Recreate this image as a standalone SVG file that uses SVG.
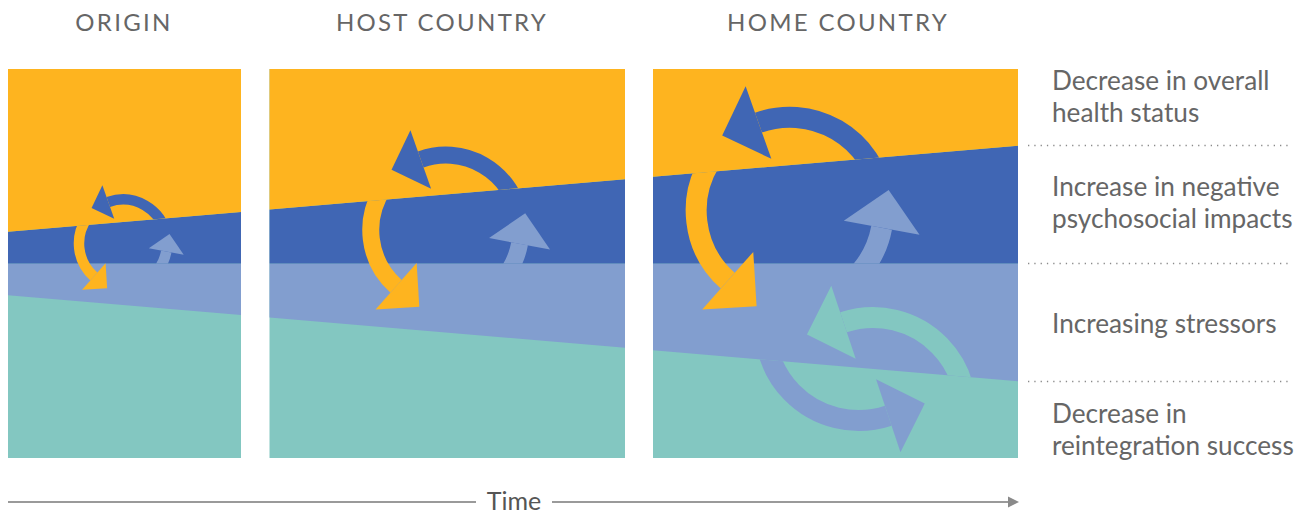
<svg xmlns="http://www.w3.org/2000/svg" width="1303" height="513" viewBox="0 0 1303 513">
<style>
.or{fill:#FEB41F}.db{fill:#4066B4}.lb{fill:#829ECF}.tl{fill:#83C7C1}
.a{fill:none}
.aor{stroke:#FEB41F}.adb{stroke:#4066B4}.alb{stroke:#829ECF}.atl{stroke:#83C7C1}
.w1{stroke-width:10.5}.w2{stroke-width:17}.w3{stroke-width:21}
text{font-family:Lato,"Liberation Sans",sans-serif;fill:#666}
.hdr{font-size:24px;letter-spacing:2.3px;text-anchor:middle}
.lbl{font-size:26.2px}
.dot{stroke:#8a8a8a;stroke-width:1.3;stroke-dasharray:1.3 5}
.axis{stroke:#9a9a9a;stroke-width:1.8}
</style>
<defs>
<clipPath id="cAbove1"><polygon points="0,0 1303,0 1303,121.43 0,232.38"/></clipPath>
<clipPath id="cBelow1"><polygon points="0,232.38 1303,121.43 1303,513 0,513"/></clipPath>
<clipPath id="cAbove2"><rect x="0" y="0" width="1303" height="263.5"/></clipPath>
<clipPath id="cAbove3"><polygon points="0,0 1303,0 1303,405.57 0,294.62"/></clipPath>
<clipPath id="cBelow3"><polygon points="0,294.62 1303,405.57 1303,513 0,513"/></clipPath>
</defs>

<g id="headers">
<text class="hdr" x="124" y="31">ORIGIN</text>
<text class="hdr" x="442" y="31">HOST COUNTRY</text>
<text class="hdr" x="838" y="31">HOME COUNTRY</text>
</g>

<g id="panel-origin">
<rect class="tl" x="8" y="69" width="233" height="389"/>
<polygon class="lb" points="8,263.5 241,263.5 241,315.1 8,295.3"/>
<polygon class="db" points="8,231.7 241,211.9 241,263.5 8,263.5"/>
<polygon class="or" points="8,69 241,69 241,211.9 8,231.7"/>
<g clip-path="url(#cAbove1)">
<path class="a adb w1" d="M166.33,235.86 A44,44 0 0 0 108.31,202.03"/>
<polygon class="db" points="114.24,218.76 102.39,185.29 91.58,207.95"/>
</g>
<g clip-path="url(#cBelow1)">
<path class="a aor w1" d="M86.96,218.26 A44,44 0 0 0 93.85,276.46"/>
<polygon class="or" points="105.61,263.16 82.08,289.75 107.14,288.22"/>
</g>
<g clip-path="url(#cAbove2)">
<path class="a alb w1" d="M154.11,274.61 A44,44 0 0 0 166.27,251.52"/>
<polygon class="lb" points="148.81,248.28 183.72,254.75 169.5,234.07"/>
</g>
</g>

<g id="panel-host">
<rect class="tl" x="269.5" y="69" width="355.5" height="389"/>
<polygon class="lb" points="269.5,263.5 625,263.5 625,347.8 269.5,317.6"/>
<polygon class="db" points="269.5,209.4 625,179.2 625,263.5 269.5,263.5"/>
<polygon class="or" points="269.5,69 625,69 625,179.2 269.5,209.4"/>
<g clip-path="url(#cAbove1)">
<path class="a adb w2" d="M519.66,217.08 A75,75 0 0 0 420.76,159.40"/>
<polygon class="db" points="431.11,188.63 410.42,130.18 391.54,169.75"/>
</g>
<g clip-path="url(#cBelow1)">
<path class="a aor w2" d="M384.36,187.08 A75,75 0 0 0 396.10,286.28"/>
<polygon class="or" points="416.65,263.06 375.56,309.49 419.32,306.82"/>
</g>
<g clip-path="url(#cAbove2)">
<path class="a alb w2" d="M498.83,283.13 A75,75 0 0 0 519.55,243.77"/>
<polygon class="lb" points="489.07,238.12 550.03,249.41 525.2,213.29"/>
</g>
</g>

<g id="panel-home">
<rect class="tl" x="653" y="69" width="365" height="389"/>
<polygon class="lb" points="653,263.5 1018,263.5 1018,381.3 653,350.2"/>
<polygon class="db" points="653,176.8 1018,145.7 1018,263.5 653,263.5"/>
<polygon class="or" points="653,69 1018,69 1018,145.7 653,176.8"/>
<g clip-path="url(#cAbove1)">
<path class="a adb w3" d="M881.78,194.46 A93.5,93.5 0 0 0 758.49,122.57"/>
<polygon class="db" points="771.34,158.86 745.64,86.28 722.2,135.42"/>
</g>
<g clip-path="url(#cBelow1)">
<path class="a aor w3" d="M713.1,157.07 A93.5,93.5 0 0 0 727.75,280.73"/>
<polygon class="or" points="753.26,251.9 702.24,309.57 756.59,306.24"/>
</g>
<g clip-path="url(#cAbove2)">
<path class="a alb w3" d="M855.81,276.81 A93.5,93.5 0 0 0 881.63,227.74"/>
<polygon class="lb" points="843.78,220.72 919.5,234.75 888.64,189.88"/>
</g>
<g clip-path="url(#cAbove3)">
<path class="a atl w3" d="M960.39,442.31 A93,93 0 0 0 843.49,322.31"/>
<polygon class="tl" points="855.71,358.82 831.28,285.8 806.98,334.53"/>
</g>
<g clip-path="url(#cBelow3)">
<path class="a alb w3" d="M770.74,295.02 A93.5,93.5 0 0 0 888.27,415.67"/>
<polygon class="lb" points="876.05,379.16 900.48,452.18 924.78,403.45"/>
</g>
</g>

<g id="legend">
<line class="dot" x1="1028" y1="145.5" x2="1292" y2="145.5"/>
<line class="dot" x1="1028" y1="263.5" x2="1292" y2="263.5"/>
<line class="dot" x1="1028" y1="381.5" x2="1292" y2="381.5"/>
<text class="lbl" x="1052" y="90">Decrease in overall</text>
<text class="lbl" x="1052" y="122">health status</text>
<text class="lbl" x="1052" y="196">Increase in negative</text>
<text class="lbl" x="1052" y="228">psychosocial impacts</text>
<text class="lbl" x="1052" y="333">Increasing stressors</text>
<text class="lbl" x="1052" y="423">Decrease in</text>
<text class="lbl" x="1052" y="455">reintegration success</text>
</g>

<g id="connectors">
<line class="axis" x1="8" y1="502" x2="476" y2="502"/>
<line class="axis" x1="552" y1="502" x2="1010" y2="502"/>
<polygon fill="#8a8a8a" points="1008,496.5 1019,502 1008,507.5"/>
</g>
<text x="514" y="510" style="font-size:25px;text-anchor:middle;fill:#555">Time</text>
</svg>
